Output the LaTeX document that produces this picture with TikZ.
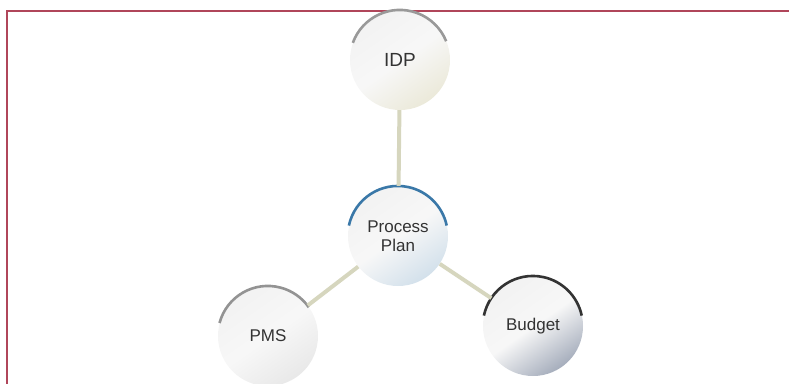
\documentclass[tikz,border=0pt]{standalone}
\usepackage{fontspec}
\setmainfont{Liberation Sans}
\definecolor{frame}{HTML}{B0465A}
\definecolor{stem}{HTML}{D6D6BE}
\definecolor{rimblue}{HTML}{3A78A8}
\definecolor{idptint}{HTML}{D8D4B4}
\definecolor{budtint}{HTML}{4A5A78}
\colorlet{balltint}{gray}
\pgfdeclareverticalshading[balltint]{ballshade}{100bp}{color(0bp)=(balltint);color(22bp)=(balltint!55!white);color(50bp)=(black!3);color(100bp)=(black!7)}
\tikzset{
  ball/.style={circle,minimum size=100pt,inner sep=0pt,/utils/exec={\colorlet{balltint}{#1}},shading=ballshade,shading angle=35,text=black!80,font=\fontsize{17}{19}\selectfont,align=center},
  rim/.style={line width=2.6pt,#1},
  stemline/.style={line width=4pt,stem}
}
\begin{document}
\begin{tikzpicture}[x=1pt,y=-1pt]
\useasboundingbox(0,0)rectangle(789,383);
%frame
\draw[frame,line width=1.8pt](7,400)--(7,11)--(800,11);
%circles
\node[ball=idptint,font=\fontsize{19}{21}\selectfont](idp)at(400,60){IDP};
\node[ball=rimblue!45!white](pp)at(398,236){Process\\Plan};
\node[ball=gray!35](pms)at(268,336){PMS};
\node[ball=budtint](bud)at(533,326){Budget};
%rims
\draw[rim=gray!80](idp.160)arc[start angle=160,end angle=22,radius=50pt];
\draw[rim=rimblue](pp.168)arc[start angle=168,end angle=12,radius=50pt];
\draw[rim=gray!85](pms.165)arc[start angle=165,end angle=35,radius=50pt];
\draw[rim=black!80](bud.168)arc[start angle=168,end angle=12,radius=50pt];
%links
\draw[stemline](idp)--(pp);
\draw[stemline](pp)--(pms);
\draw[stemline](pp)--(bud);
\end{tikzpicture}
\end{document}
